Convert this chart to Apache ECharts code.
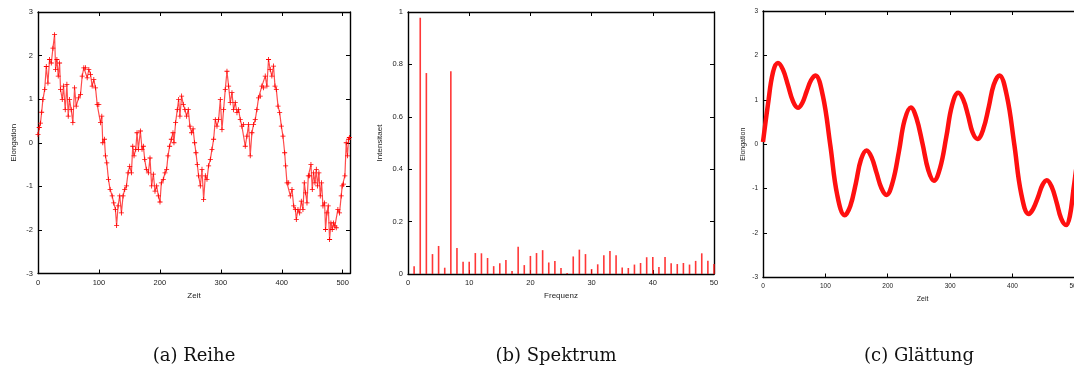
<!DOCTYPE html>
<html><head><meta charset="utf-8">
<script src="https://cdn.jsdelivr.net/npm/echarts@6/dist/echarts.min.js"></script>
<style>html,body{margin:0;padding:0;background:#fff}#c{width:1074px;height:367px}</style>
</head><body><div id="c"></div>
<script>
// (a) Reihe: time and elongation
const reiheT = [0,2,4,6,8,11,13.6,16.3,19,21.8,24.5,27.2,28.9,31,33.2,35.4,37,39.8,41.9,44.7,47.4,49.6,51.8,54.5,57.2,60,62.7,66.5,69.8,72.5,75.2,78,80.7,83.4,86.2,88.9,91.6,94.4,97.1,99.8,102.5,104.7,106.3,109,110.7,112.9,115.6,118.3,121.7,124.3,127,129,131.4,134.1,136.9,139.6,142.3,145.1,147.8,150.5,153.3,155.5,157.6,160.4,162.5,164.7,168,170.7,172.9,175.1,177.8,181.1,183.8,186.5,189.3,192,194.7,197.5,200.2,202.4,205.6,208.4,211.1,213.3,216,218.8,221.5,223.1,225.8,228.6,230.8,232.9,235.7,238.4,241.1,243.9,246.6,249.3,252.1,254.5,257,259.2,261.4,263.6,266.4,269.1,271.8,274.6,277.3,280,282.8,285.5,288.2,291,293.7,296.4,299.2,301.9,304.6,307.3,310.1,312.8,315.5,318.3,321,323.7,326.5,329.2,331.9,334.6,337.4,340.1,342.8,345.6,348.3,351,353.8,356.5,359.2,361.9,364.7,367.4,370.1,372.9,375.6,378.3,381,383.8,386.5,388.9,391.1,393.9,396.6,399.3,402,404.8,406.4,408.6,411.4,414.1,416.8,419.6,422.3,423.9,426.6,429.4,432.1,434.8,437,439.2,441.4,443.6,445.8,447.9,450.1,452.3,454.5,456.7,458.8,461,463.2,465.4,467.6,470.3,471.9,474.1,476.3,478.5,480.7,482.8,485,487.2,489.4,492.1,494.8,497.6,499.2,501.4,503.6,505.8,507.9,509.6,511];
const reiheV = [0.19,0.35,0.45,0.7,0.99,1.22,1.75,1.37,1.91,1.83,2.17,2.48,1.68,1.91,1.53,1.83,1.22,0.99,1.30,0.76,1.34,0.61,0.99,0.76,0.46,1.26,0.84,1.03,1.11,1.53,1.72,1.72,1.49,1.68,1.57,1.30,1.45,1.26,0.88,0.88,0.46,0.61,0.0,0.08,-0.30,-0.46,-0.84,-1.07,-1.22,-1.38,-1.53,-1.90,-1.45,-1.22,-1.61,-1.22,-1.07,-0.99,-0.69,-0.54,-0.69,-0.08,-0.30,-0.15,0.23,-0.15,0.27,-0.15,-0.08,-0.38,-0.61,-0.69,-0.35,-0.99,-0.72,-1.11,-0.99,-1.22,-1.36,-0.92,-0.84,-0.69,-0.61,-0.30,-0.08,0.08,0.23,0.0,0.46,0.76,0.99,0.61,1.07,0.88,0.76,0.61,0.76,0.38,0.23,0.32,0.0,-0.23,-0.50,-0.76,-0.99,-0.61,-1.30,-0.76,-0.84,-0.53,-0.38,-0.15,0.08,0.53,0.38,0.53,0.99,0.30,0.76,1.22,1.64,1.30,0.92,1.15,0.76,0.92,0.69,0.76,0.53,0.38,0.42,-0.08,0.15,0.42,-0.30,0.23,0.42,0.53,0.76,1.03,1.07,1.30,1.26,1.53,1.30,1.91,1.68,1.53,1.76,1.30,1.22,0.84,0.69,0.38,0.15,-0.23,-0.53,-0.92,-0.92,-1.22,-1.07,-1.45,-1.53,-1.76,-1.53,-1.61,-1.34,-1.53,-0.92,-1.15,-1.38,-0.76,-0.76,-0.50,-1.07,-0.69,-0.92,-0.61,-0.99,-0.69,-1.22,-0.92,-1.45,-1.38,-1.99,-1.61,-1.45,-2.22,-1.84,-1.99,-1.84,-1.91,-1.95,-1.53,-1.61,-1.22,-0.99,-0.95,-0.76,0.0,-0.30,0.08,0.12];

// (b) Spektrum
const frequenz = [1,2,3,4,5,6,7,8,9,10,11,12,13,14,15,16,17,18,19,20,21,22,23,24,25,26,27,28,29,30,31,32,33,34,35,36,37,38,39,40,41,42,43,44,45,46,47,48,49,50];
const intensitaet = [0.030,0.978,0.767,0.076,0.107,0.024,0.774,0.099,0.047,0.047,0.080,0.079,0.061,0.030,0.041,0.053,0.011,0.104,0.034,0.069,0.080,0.091,0.044,0.050,0.023,0.004,0.067,0.093,0.076,0.019,0.037,0.072,0.088,0.072,0.025,0.023,0.036,0.042,0.064,0.065,0.027,0.065,0.041,0.038,0.042,0.036,0.050,0.079,0.051,0.038];

// (c) Glättung
const glattT = [0,8,16,24,32,40,48,56,63,70,77,84,96,108,119,131,140,149,157,166,174,182,190,198,208,218,227,237,246,256,265,274,284,294,303,313,321,329,336,344,353,362,370,379,391,403,414,426,433,441,448,455,463,471,478,486,492,498,505,511];
const glattV = [0.05,0.9,1.62,1.83,1.68,1.33,0.97,0.82,0.93,1.19,1.44,1.55,1.09,-0.03,-1.14,-1.60,-1.39,-0.87,-0.35,-0.14,-0.29,-0.64,-0.99,-1.14,-0.85,-0.16,0.54,0.83,0.59,0.0,-0.58,-0.82,-0.53,0.17,0.87,1.16,1.01,0.64,0.27,0.12,0.33,0.84,1.34,1.55,1.09,-0.01,-1.11,-1.57,-1.46,-1.19,-0.92,-0.81,-0.96,-1.32,-1.67,-1.82,-1.62,-1.0,-0.3,0.1];

const captions = ['(a) Reihe', '(b) Spektrum', '(c) Glättung'];
const axisNames = [['Zeit','Elongation'],['Frequenz','Intensitaet'],['Zeit','Elongation']];

const SANS = 'Liberation Sans, Arial, sans-serif';
const plus = 'path://M0,2.1H5V2.9H0Z M2.1,0H2.9V5H2.1Z';

function axesFor(gi, xr, yr, fs, xGap, yGap) {
  const common = {
    axisLine: {show: true, onZero: false, lineStyle: {color: '#000', width: 1.4}},
    axisTick: {show: true, inside: true, length: 4, lineStyle: {color: '#000', width: 1}},
    splitLine: {show: false}
  };
  const xs = [
    Object.assign({}, common, {type: 'value', gridIndex: gi, position: 'bottom', min: xr[0], max: xr[1], interval: xr[2],
      name: axisNames[gi][0], nameLocation: 'middle', nameGap: xGap,
      nameTextStyle: {fontFamily: SANS, fontSize: fs + 0.5, color: '#222'},
      axisLabel: {fontFamily: SANS, fontSize: fs, color: '#222', margin: 5, showMaxLabel: xr[1] % xr[2] === 0,
        formatter: v => (v % xr[2] === 0 ? String(v) : '')}}),
    Object.assign({}, common, {type: 'value', gridIndex: gi, position: 'top', min: xr[0], max: xr[1], interval: xr[2],
      axisLabel: {show: false}})
  ];
  const ys = [
    Object.assign({}, common, {type: 'value', gridIndex: gi, position: 'left', min: yr[0], max: yr[1], interval: yr[2],
      name: axisNames[gi][1], nameLocation: 'middle', nameGap: yGap,
      nameTextStyle: {fontFamily: SANS, fontSize: fs + 0.5, color: '#222'},
      axisLabel: {fontFamily: SANS, fontSize: fs, color: '#222', margin: 5}}),
    Object.assign({}, common, {type: 'value', gridIndex: gi, position: 'right', min: yr[0], max: yr[1], interval: yr[2],
      axisLabel: {show: false}})
  ];
  return {xs, ys};
}

const A = axesFor(0, [0, 512, 100], [-3, 3, 1], 7.5, 18, 20);
const B = axesFor(1, [0, 50, 10], [0, 1, 0.2], 7.5, 18, 24);
const C = axesFor(2, [0, 512, 100], [-3, 3, 1], 6.5, 18, 16);

const option = {
  animation: false,
  backgroundColor: '#fff',
  grid: [
    {left: 38, top: 12, width: 312, height: 261.5, outerBoundsMode: 'none'},
    {left: 408, top: 12, width: 306, height: 262, outerBoundsMode: 'none'},
    {left: 763, top: 11, width: 319.3, height: 266.5, outerBoundsMode: 'none'}
  ],
  title: captions.map((c, i) => ({
    text: c, left: [189, 551, 914][i], top: 342, textAlign: 'center',
    textStyle: {fontFamily: 'DejaVu Serif, serif', fontWeight: 'normal', fontSize: 18, color: '#111'}
  })),
  xAxis: [...A.xs, ...B.xs, ...C.xs],
  yAxis: [...A.ys, ...B.ys, ...C.ys],
  series: [
    {type: 'line', xAxisIndex: 0, yAxisIndex: 0,
     data: reiheT.map((t, i) => [t, reiheV[i]]),
     lineStyle: {color: 'rgba(255,0,0,0.7)', width: 1.2},
     symbol: plus, symbolSize: 5, showSymbol: true,
     itemStyle: {color: '#ff0000'}},
    {type: 'bar', xAxisIndex: 2, yAxisIndex: 2,
     data: frequenz.map((f, i) => [f, intensitaet[i]]),
     barWidth: 1.6, itemStyle: {color: 'rgba(255,20,20,0.85)'}},
    {type: 'line', xAxisIndex: 4, yAxisIndex: 4,
     data: glattT.map((t, i) => [t, glattV[i]]),
     smooth: 0.4, showSymbol: false,
     lineStyle: {color: '#ff1010', width: 4.5}}
  ]
};
echarts.init(document.getElementById('c'), null, {renderer: 'canvas'}).setOption(option);
</script>
</body></html>
